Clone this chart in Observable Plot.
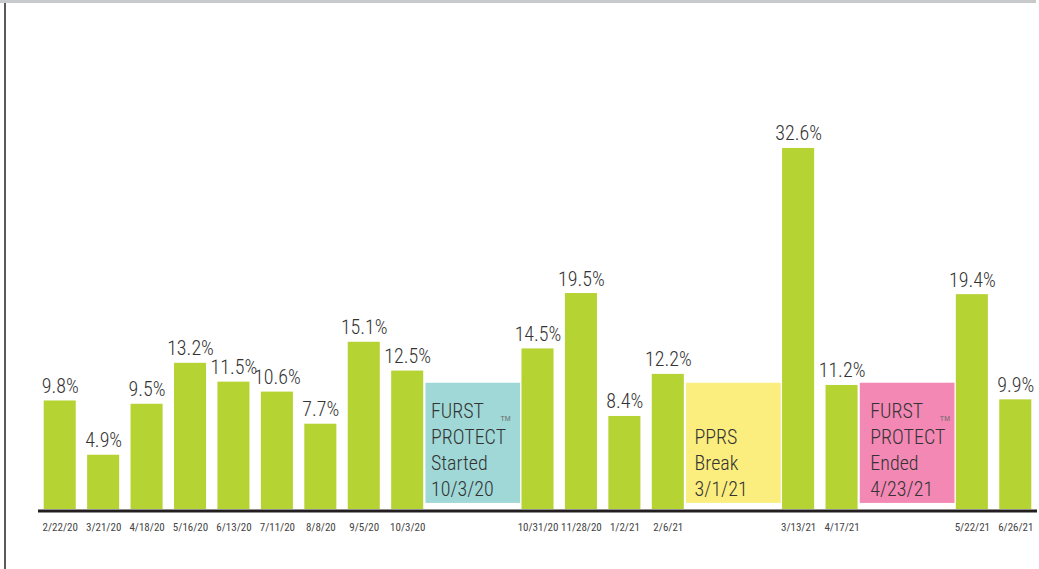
<!DOCTYPE html>
<html><head><meta charset="utf-8">
<script src="https://cdn.jsdelivr.net/npm/d3@7"></script>
<script src="https://cdn.jsdelivr.net/npm/@observablehq/plot@0.6"></script>
<style>
body{margin:0;background:#fff;}
#wrap{position:relative;width:1039px;height:569px;overflow:hidden;}
#topbar{position:absolute;left:0;top:0;width:1036px;height:3px;background:#c8c9cb;}
#leftline{position:absolute;left:4px;top:3px;width:2px;height:566px;background:#5a5a5a;}
#chart{position:absolute;left:0;top:0;}
</style></head><body>
<div id="wrap"><div id="chart"></div><div id="topbar"></div><div id="leftline"></div></div>
<script>
// 23 slots: blanks ("") are where the annotation boxes sit
const slots = ["2/22/20","3/21/20","4/18/20","5/16/20","6/13/20","7/11/20","8/8/20","9/5/20","10/3/20","","",
  "10/31/20","11/28/20","1/2/21","2/6/21","","","3/13/21","4/17/21","","","5/22/21","6/26/21"];
const values = [9.8,4.9,9.5,13.2,11.5,10.6,7.7,15.1,12.5,null,null,
  14.5,19.5,8.4,12.2,null,null,32.6,11.2,null,null,19.4,9.9];
const boxLabels = ["FURST\nPROTECT\nStarted\n10/3/20","PPRS\nBreak\n3/1/21","FURST\nPROTECT\nEnded\n4/23/21"];
const boxFirstSlot = [9,15,19];
const boxLastSlot = [10,16,20];
const boxColors = ["#9fd8d6","#fbee7e","#f388b4"];
const boxTrademark = [true,false,true];
const boxHeight = 11.4;

const FONT = "'Liberation Sans Narrow','Arial Narrow','Roboto Condensed',sans-serif";
const bars = slots.map((label,i)=>({i,label,v:values[i]})).filter(d=>d.v!=null);
const boxes = boxLabels.map((t,k)=>({t,s0:boxFirstSlot[k],s1:boxLastSlot[k],color:boxColors[k],tm:boxTrademark[k],k}));
const half = 0.369;
const textPad = [5,8,10];
const tmPad = [10,6,5];

const chart = Plot.plot({
  width:1039, height:569,
  marginLeft:38, marginRight:2, marginTop:66, marginBottom:60,
  style:{fontFamily:FONT, background:"transparent"},
  x:{type:"linear", domain:[-0.5,22.5], ticks:bars.map(d=>d.i), tickFormat:i=>slots[i], tickSize:0, tickPadding:14, label:null},
  y:{domain:[0,40], axis:null},
  marks:[
    Plot.rect(boxes,{x1:d=>d.s0-0.58, x2:d=>d.s1+0.6, y1:0.55, y2:boxHeight, fill:d=>d.color}),
    Plot.rectY(bars,{x1:d=>d.i-half, x2:d=>d.i+half, y1:0, y2:"v", fill:"#b6d334"}),
    Plot.text(bars,{x:"i", y:"v", text:d=>d.v.toFixed(1)+"%", lineAnchor:"bottom", dy:-8, fontSize:20, fontWeight:300, fill:"#333"}),
    ...boxes.map(b=>Plot.text([b],{x:d=>d.s0-0.58, y:0.55, text:"t", textAnchor:"start", lineAnchor:"bottom", dx:textPad[b.k], dy:-7, fontSize:20, fontWeight:300, lineHeight:1.3, fill:"#333"})),
    ...boxes.filter(b=>b.tm).map(b=>Plot.text([b],{x:d=>d.s1+0.6, y:boxHeight, text:()=>"TM", textAnchor:"end", lineAnchor:"middle", dx:-tmPad[b.k], dy:36, fontSize:7, fontFamily:"'Liberation Sans',Arial,sans-serif", fill:"#6a6a6a"})),
    Plot.ruleY([0],{stroke:"#231f20", strokeWidth:3, dy:1.5})
  ]
});
const ax = chart.querySelector("g[aria-label='x-axis tick label']");
if (ax) { ax.setAttribute("font-size","11"); ax.setAttribute("fill","#444"); }
document.getElementById("chart").appendChild(chart);
</script>
</body></html>
